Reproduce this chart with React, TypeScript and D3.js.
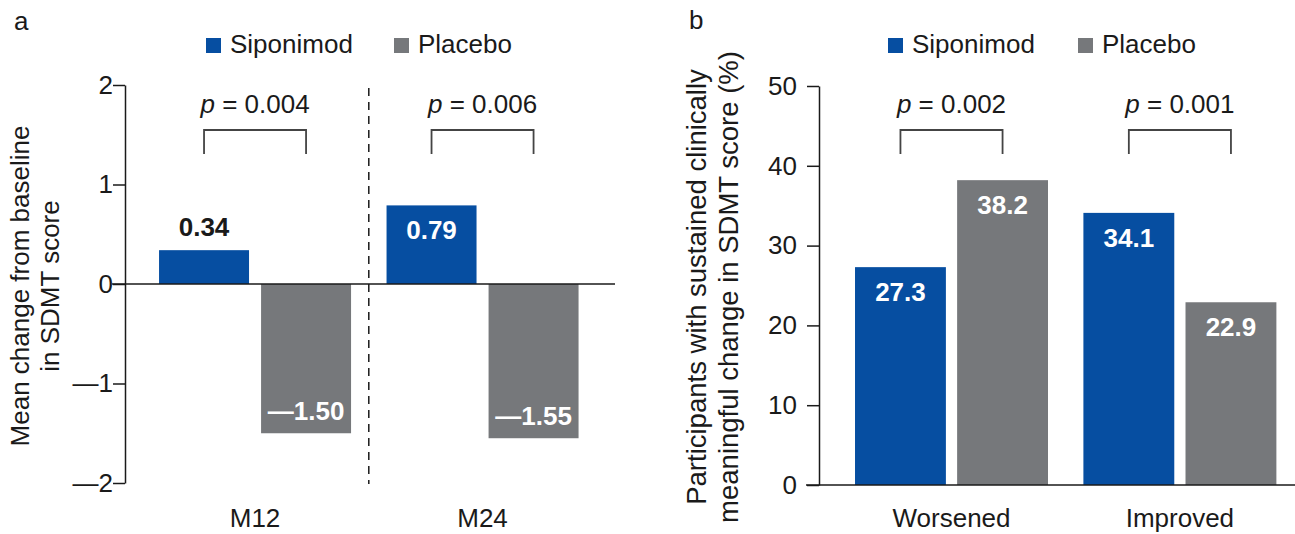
import { useEffect, useRef } from 'react';
import * as d3 from 'd3';

// panel a: mean change from baseline
const visits = ['M12', 'M24'];
const groups = ['Siponimod', 'Placebo'];
const changeSip = [0.34, 0.79];
const changePla = [-1.5, -1.55];
const changeLabels = [['0.34', '—1.50'], ['0.79', '—1.55']];
const pValuesA = ['0.004', '0.006'];
const ticksA = [-2, -1, 0, 1, 2];

// panel b: sustained clinically meaningful change
const outcomes = ['Worsened', 'Improved'];
const pctSip = [27.3, 34.1];
const pctPla = [38.2, 22.9];
const pValuesB = ['0.002', '0.001'];
const ticksB = [0, 10, 20, 30, 40, 50];

const BLUE = '#064ea1';
const GREY = '#76787b';
const INK = '#1a1a1a';
const FONT = '"Liberation Sans", Arial, sans-serif';

export default function App() {
  const svgRef = useRef<SVGSVGElement>(null);

  useEffect(() => {
    if (!svgRef.current) return;
    document.body.style.margin = '0';
    const svg = d3.select(svgRef.current);
    svg.selectAll('*').remove();
    svg.style('font-family', FONT);

    const color = d3.scaleOrdinal<string, string>().domain(groups).range([BLUE, GREY]);

    const legend = (g: d3.Selection<SVGGElement, unknown, null, undefined>, x0: number, x1: number) => {
      [x0, x1].forEach((x, i) => {
        g.append('rect').attr('x', x).attr('y', 38).attr('width', 15).attr('height', 15).attr('fill', color(groups[i]));
        g.append('text').attr('x', x + 24).attr('y', 53).attr('font-size', 26).attr('fill', INK).text(groups[i]);
      });
    };

    const pBracket = (g: d3.Selection<SVGGElement, unknown, null, undefined>, xl: number, xr: number, p: string) => {
      g.append('path')
        .attr('d', `M${xl},154V130H${xr}V154`)
        .attr('fill', 'none')
        .attr('stroke', '#444')
        .attr('stroke-width', 1.8);
      const t = g.append('text')
        .attr('x', (xl + xr) / 2)
        .attr('y', 113)
        .attr('text-anchor', 'middle')
        .attr('font-size', 26)
        .attr('fill', INK);
      t.append('tspan').attr('font-style', 'italic').text('p');
      t.append('tspan').text(` = ${p}`);
    };

    const barLabel = (g: d3.Selection<SVGGElement, unknown, null, undefined>, x: number, y: number, txt: string, fill: string) => {
      g.append('text')
        .attr('x', x)
        .attr('y', y)
        .attr('text-anchor', 'middle')
        .attr('font-size', 26)
        .attr('font-weight', 'bold')
        .attr('fill', fill)
        .text(txt);
    };

    // ---------- panel a ----------
    const a = svg.append('g');
    a.append('text').attr('x', 14).attr('y', 30).attr('font-size', 26).attr('fill', INK).text('a');
    legend(a, 206, 394);

    const yA = d3.scaleLinear().domain([-2, 2]).range([483, 85]);
    const xA = d3.scaleBand().domain(visits).range([141.3, 596.3]).paddingInner(0.156).paddingOuter(0.078);
    const xA2 = d3.scaleBand().domain(groups).range([0, xA.bandwidth()]).paddingInner(0.118);

    const axA = a.append('g').attr('transform', 'translate(125,0)')
      .call(d3.axisLeft(yA).tickValues(ticksA).tickSize(12).tickSizeOuter(0).tickPadding(0)
        .tickFormat(d => (+d < 0 ? `—${Math.abs(+d)}` : `${d}`)));
    axA.select('.domain').attr('stroke', INK).attr('stroke-width', 1.5);
    axA.selectAll('.tick line').attr('stroke', INK).attr('stroke-width', 1.5);
    axA.selectAll('.tick text').attr('font-size', 26).attr('fill', INK).attr('font-family', FONT);

    visits.forEach((v, i) => {
      const gx = xA(v)!;
      const vals = [changeSip[i], changePla[i]];
      groups.forEach((grp, j) => {
        const x = gx + xA2(grp)!;
        const val = vals[j];
        a.append('rect')
          .attr('x', x)
          .attr('y', Math.min(yA(val), yA(0)))
          .attr('width', xA2.bandwidth())
          .attr('height', Math.abs(yA(val) - yA(0)))
          .attr('fill', color(grp));
        const cx = x + xA2.bandwidth() / 2;
        const lbl = changeLabels[i][j];
        if (val < 0) barLabel(a, cx, yA(val) - 13, lbl, '#fff');
        else if (yA(0) - yA(val) < 45) barLabel(a, cx, yA(val) - 14, lbl, INK);
        else barLabel(a, cx, yA(val) + 34, lbl, '#fff');
      });
      pBracket(a, gx + xA2('Siponimod')! + xA2.bandwidth() / 2, gx + xA2('Placebo')! + xA2.bandwidth() / 2, pValuesA[i]);
      a.append('text')
        .attr('x', gx + xA.bandwidth() / 2)
        .attr('y', 527)
        .attr('text-anchor', 'middle')
        .attr('font-size', 26)
        .attr('fill', INK)
        .text(v);
    });

    a.append('line').attr('x1', 112).attr('x2', 615).attr('y1', yA(0)).attr('y2', yA(0))
      .attr('stroke', INK).attr('stroke-width', 1.5);

    const divX = xA('M12')! + xA.bandwidth() + (xA.step() - xA.bandwidth()) / 2;
    a.append('line').attr('x1', divX).attr('x2', divX).attr('y1', 88).attr('y2', 484)
      .attr('stroke', INK).attr('stroke-width', 1.5).attr('stroke-dasharray', '8,6');

    const labA = a.append('text')
      .attr('transform', 'translate(29,286) rotate(-90)')
      .attr('text-anchor', 'middle')
      .attr('font-size', 26)
      .attr('fill', INK);
    labA.append('tspan').attr('x', 0).attr('dy', 0).text('Mean change from baseline');
    labA.append('tspan').attr('x', 0).attr('dy', 30).text('in SDMT score');

    // ---------- panel b ----------
    const b = svg.append('g');
    b.append('text').attr('x', 689).attr('y', 29).attr('font-size', 26).attr('fill', INK).text('b');
    legend(b, 888, 1078);

    const yB = d3.scaleLinear().domain([0, 50]).range([485, 86]);
    const xB = d3.scaleBand().domain(outcomes).range([837.2, 1294.2]).paddingInner(0.155).paddingOuter(0.078);
    const xB2 = d3.scaleBand().domain(groups).range([0, xB.bandwidth()]).paddingInner(0.11);

    const axB = b.append('g').attr('transform', 'translate(819,0)')
      .call(d3.axisLeft(yB).tickValues(ticksB).tickSize(12).tickSizeOuter(0).tickPadding(10));
    axB.select('.domain').attr('stroke', INK).attr('stroke-width', 1.5);
    axB.selectAll('.tick line').attr('stroke', INK).attr('stroke-width', 1.5);
    axB.selectAll('.tick text').attr('font-size', 26).attr('fill', INK).attr('font-family', FONT);

    outcomes.forEach((o, i) => {
      const gx = xB(o)!;
      const vals = [pctSip[i], pctPla[i]];
      groups.forEach((grp, j) => {
        const x = gx + xB2(grp)!;
        const val = vals[j];
        b.append('rect')
          .attr('x', x)
          .attr('y', yB(val))
          .attr('width', xB2.bandwidth())
          .attr('height', yB(0) - yB(val))
          .attr('fill', color(grp));
        barLabel(b, x + xB2.bandwidth() / 2, yB(val) + 34, val.toFixed(1), '#fff');
      });
      pBracket(b, gx + xB2('Siponimod')! + xB2.bandwidth() / 2, gx + xB2('Placebo')! + xB2.bandwidth() / 2, pValuesB[i]);
      b.append('text')
        .attr('x', gx + xB.bandwidth() / 2)
        .attr('y', 527)
        .attr('text-anchor', 'middle')
        .attr('font-size', 26)
        .attr('fill', INK)
        .text(o);
    });

    b.append('line').attr('x1', 806).attr('x2', 1295).attr('y1', yB(0)).attr('y2', yB(0))
      .attr('stroke', INK).attr('stroke-width', 1.5);

    const labB = b.append('text')
      .attr('transform', 'translate(706,287) rotate(-90)')
      .attr('text-anchor', 'middle')
      .attr('font-size', 27.5)
      .attr('fill', INK);
    labB.append('tspan').attr('x', 0).attr('dy', 0).text('Participants with sustained clinically');
    labB.append('tspan').attr('x', 0).attr('dy', 32).text('meaningful change in SDMT score (%)');
  }, []);

  return (
    <svg
      ref={svgRef}
      width={1295}
      height={534}
      style={{ display: 'block', background: '#fff' }}
    />
  );
}
